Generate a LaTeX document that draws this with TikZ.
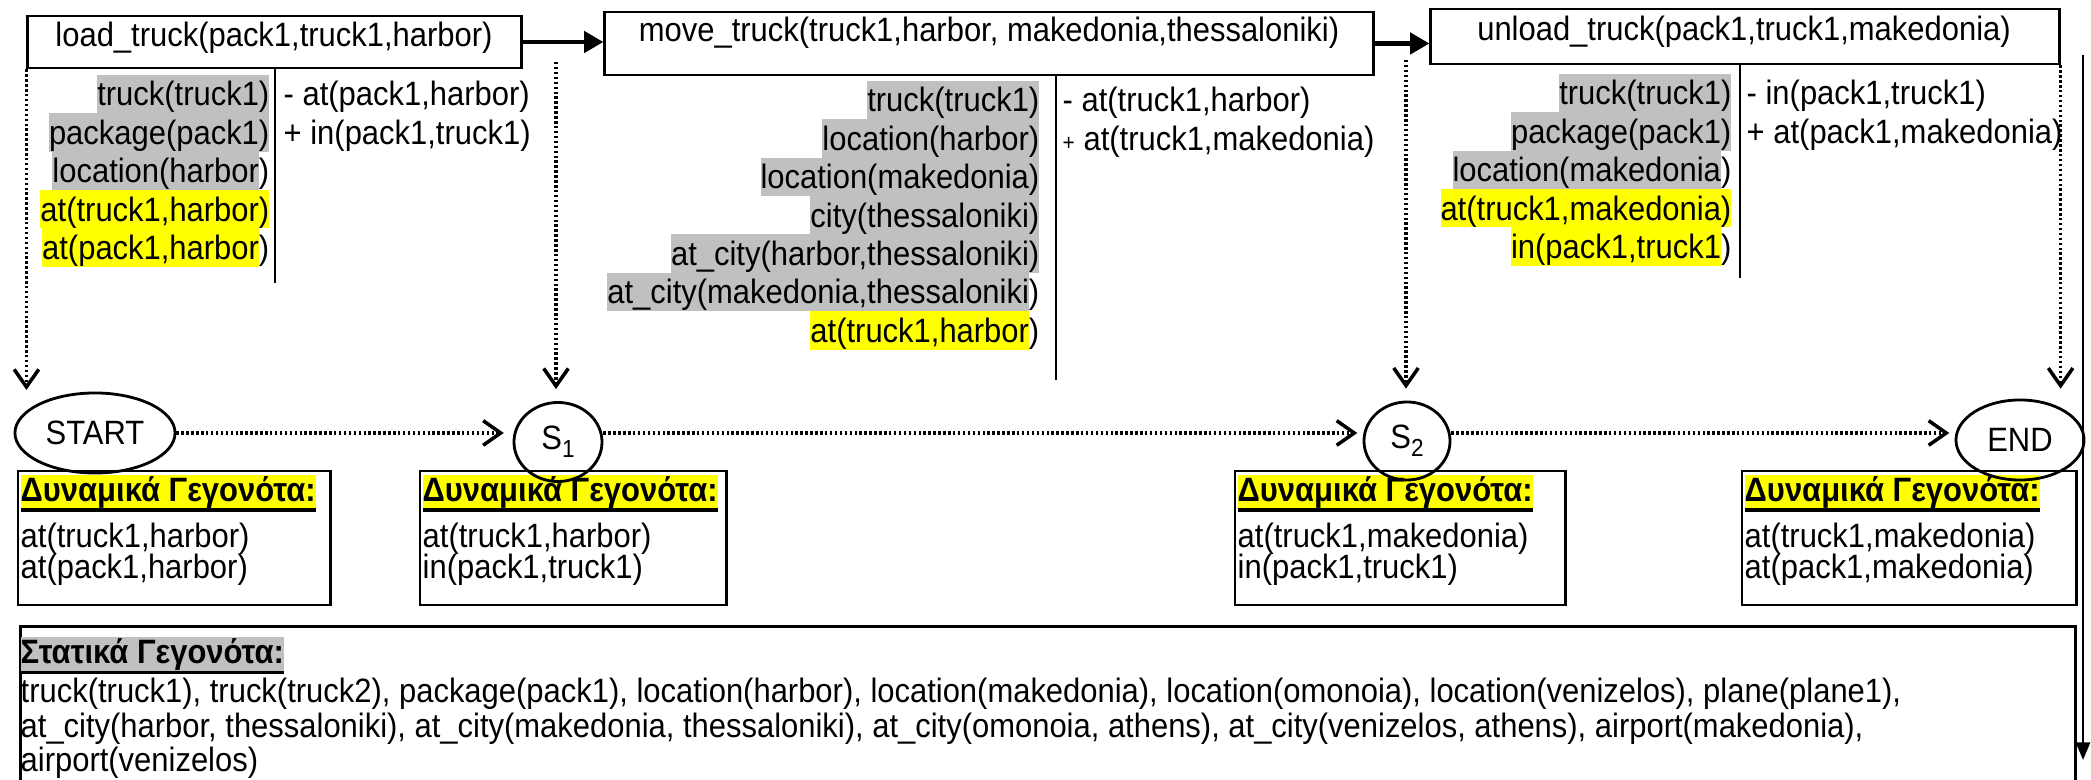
\documentclass[tikz,border=0pt]{standalone}
\usepackage{fontspec}
\setmainfont{Liberation Sans}[FakeStretch=0.917]
\usetikzlibrary{arrows.meta,shapes.geometric}
\definecolor{hlgray}{RGB}{192,192,192}
\definecolor{hlyellow}{RGB}{255,255,0}
% one highlighted line of a fact list
\newcommand\rowstrut{\rule[-2.05pt]{0pt}{10.9pt}}
\newcommand\hg[1]{{\setlength{\fboxsep}{0pt}\colorbox{hlgray}{\rowstrut#1}}}
\newcommand\hy[1]{{\setlength{\fboxsep}{0pt}\colorbox{hlyellow}{\rowstrut#1}}}
% bold heading with a heavy underline on a coloured band
\newcommand\thickul[1]{\setbox0\hbox{#1}\rlap{\rule[-2.85pt]{\wd0}{1pt}}\box0}
\newcommand\headstrut{\rule[-2.9pt]{0pt}{10.6pt}}
\newcommand\headbox[2]{{\setlength{\fboxsep}{0pt}\colorbox{#1}{\headstrut\thickul{\bfseries #2}}}}
\newcommand\smallplus{{\fontsize{6.5}{6.5}\selectfont +}}

\begin{document}
\begin{tikzpicture}[x=0.01cm,y=-0.01cm,
  every node/.style={font=\fontsize{9.6}{10.9}\selectfont, inner sep=0pt},
  actbox/.style={draw, line width=0.8pt, rectangle},
  factbox/.style={draw, line width=0.8pt, rectangle},
  state/.style={draw, ellipse, line width=0.8pt},
  flow/.style={line width=1.3pt, -{Triangle[length=5.5pt,width=6pt]}},
  link/.style={line width=0.9pt, dash pattern=on 0.7pt off 0.7pt,
    -{Straight Barb[length=5pt,width=7pt,line width=1pt]}},
  divider/.style={line width=0.7pt},
  sideflow/.style={line width=0.7pt, -{Triangle[length=5pt,width=4pt]}}]

\useasboundingbox (0,0) rectangle (2091,780);

% ---- actions ----
\node[actbox, minimum width=4.93cm, minimum height=0.52cm] (a1) at (274.5,42) {};
\node (t1) at (274,38) {load\_truck(pack1,truck1,harbor)};
\node[actbox, minimum width=7.68cm, minimum height=0.63cm] (a2) at (989,43.5) {};
\node (t2) at (989,33) {move\_truck(truck1,harbor, makedonia,thessaloniki)};
\node[actbox, minimum width=6.28cm, minimum height=0.55cm] (a3) at (1745,36.5) {};
\node (t3) at (1744,32) {unload\_truck(pack1,truck1,makedonia)};

\draw[flow] (a1.east) -- (a1.east -| a2.west);
\draw[flow] (a2.east) -- (a2.east -| a3.west);

% ---- preconditions | effects ----
\draw[divider] (275,68) -- (275,283);
\draw[divider] (1056,75) -- (1056,380);
\draw[divider] (1740,64) -- (1740,278);

\node[anchor=east] (p11) at (270,94)    {\hg{truck(truck1)}};
\node[anchor=east] (p12) at (270,132.4) {\hg{package(pack1)}};
\node[anchor=east] (p13) at (270,170.8) {\hg{location(harbor})};
\node[anchor=east] (p14) at (270,209.2) {\hy{at(truck1,harbor)}};
\node[anchor=east] (p15) at (270,247.6) {\hy{at(pack1,harbor})};
\node[anchor=west] (e11) at (283,94)    {\rowstrut- at(pack1,harbor)};
\node[anchor=west] (e12) at (283,132.4) {\rowstrut+ in(pack1,truck1)};

\node[anchor=east] (p21) at (1040,100)   {\hg{truck(truck1)}};
\node[anchor=east] (p22) at (1040,138.4) {\hg{location(harbor)}};
\node[anchor=east] (p23) at (1040,176.8) {\hg{location(makedonia)}};
\node[anchor=east] (p24) at (1040,215.2) {\hg{city(thessaloniki)}};
\node[anchor=east] (p25) at (1040,253.6) {\hg{at\_city(harbor,thessaloniki)}};
\node[anchor=east] (p26) at (1040,292)   {\hg{at\_city(makedonia,thessaloniki})};
\node[anchor=east] (p27) at (1040,330.4) {\hy{at(truck1,harbor})};
\node[anchor=west] (e21) at (1062,100)   {\rowstrut- at(truck1,harbor)};
\node[anchor=west] (e22) at (1062,138.4) {\rowstrut\smallplus\ at(truck1,makedonia)};

\node[anchor=east] (p31) at (1732,93)    {\hg{truck(truck1)}};
\node[anchor=east] (p32) at (1732,131.4) {\hg{package(pack1)}};
\node[anchor=east] (p33) at (1732,169.8) {\hg{location(makedonia})};
\node[anchor=east] (p34) at (1732,208.2) {\hy{at(truck1,makedonia)}};
\node[anchor=east] (p35) at (1732,246.6) {\hy{in(pack1,truck1})};
\node[anchor=west] (e31) at (1746,93)    {\rowstrut- in(pack1,truck1)};
\node[anchor=west] (e32) at (1746,131.4) {\rowstrut+ at(pack1,makedonia)};

% ---- dynamic fact boxes ----
\node[factbox, minimum width=3.12cm, minimum height=1.34cm] (d1) at (174,538) {};
\node[factbox, minimum width=3.06cm, minimum height=1.34cm] (d2) at (573,538) {};
\node[factbox, minimum width=3.30cm, minimum height=1.34cm] (d3) at (1400,538) {};
\node[factbox, minimum width=3.34cm, minimum height=1.34cm] (d4) at (1909,538) {};

\node[anchor=base west] (h1) at (20,502) {\headbox{hlyellow}{Δυναμικά Γεγονότα:}};
\node[anchor=base west] (l11) at (20,548) {at(truck1,harbor)};
\node[anchor=base west] (l12) at (20,579) {at(pack1,harbor)};
\node[anchor=base west] (h2) at (422,502) {\headbox{hlyellow}{Δυναμικά Γεγονότα:}};
\node[anchor=base west] (l21) at (422,548) {at(truck1,harbor)};
\node[anchor=base west] (l22) at (422,579) {in(pack1,truck1)};
\node[anchor=base west] (h3) at (1237,502) {\headbox{hlyellow}{Δυναμικά Γεγονότα:}};
\node[anchor=base west] (l31) at (1237,548) {at(truck1,makedonia)};
\node[anchor=base west] (l32) at (1237,579) {in(pack1,truck1)};
\node[anchor=base west] (h4) at (1744,502) {\headbox{hlyellow}{Δυναμικά Γεγονότα:}};
\node[anchor=base west] (l41) at (1744,548) {at(truck1,makedonia)};
\node[anchor=base west] (l42) at (1744,579) {at(pack1,makedonia)};

% ---- static facts ----
\node[factbox, minimum width=20.54cm, minimum height=1.8cm, anchor=north west] (sf) at (19,625) {};
\node[anchor=base west] (hs) at (20,664) {\headbox{hlgray}{Στατικά Γεγονότα:}};
\node[anchor=base west] (s1l) at (20,703) {truck(truck1), truck(truck2), package(pack1), location(harbor), location(makedonia), location(omonoia), location(venizelos), plane(plane1),};
\node[anchor=base west] (s2l) at (20,738) {at\_city(harbor, thessaloniki), at\_city(makedonia, thessaloniki), at\_city(omonoia, athens), at\_city(venizelos, athens), airport(makedonia),};
\node[anchor=base west] (s3l) at (20,772) {airport(venizelos)};

% ---- states ----
\node[state, minimum width=1.6cm, minimum height=0.8cm] (start) at (95,433) {START};
\node[state, minimum width=0.88cm, minimum height=0.79cm] (s1) at (558,442) {S\raisebox{-0.45ex}{\fontsize{7}{7}\selectfont 1}};
\node[state, minimum width=0.86cm, minimum height=0.78cm] (s2) at (1407,441) {S\raisebox{-0.45ex}{\fontsize{7}{7}\selectfont 2}};
\node[state, minimum width=1.28cm, minimum height=0.8cm] (end) at (2020,440) {END};

% ---- state transitions ----
\draw[link, shorten >=2.5pt] (start.east) -- (start.east -| s1.west);
\draw[link, shorten >=1.5pt] (s1.east |- start.east) -- (s2.west |- start.east);
\draw[link, shorten >=1.5pt] (s2.east |- start.east) -- (end.west |- start.east);

% ---- actions to states ----
\coordinate (tA) at (29,390);
\coordinate (bB) at (556,62);
\coordinate (bC) at (1406,60);
\draw[link] (a1.south west) -- (a1.south west |- tA);
\draw[link, shorten >=3.4pt] (bB) -- (bB |- s1.north);
\draw[link, shorten >=3.4pt] (bC) -- (bC |- s2.north);
\draw[link, shorten >=2.8pt] (a3.south east) -- (a3.south east |- end.north);

% ---- side arrow ----
\coordinate (rTop) at (2083,55);
\coordinate (rBot) at (2083,760);
\draw[sideflow] (rTop) -- (rBot);
\end{tikzpicture}
\end{document}
